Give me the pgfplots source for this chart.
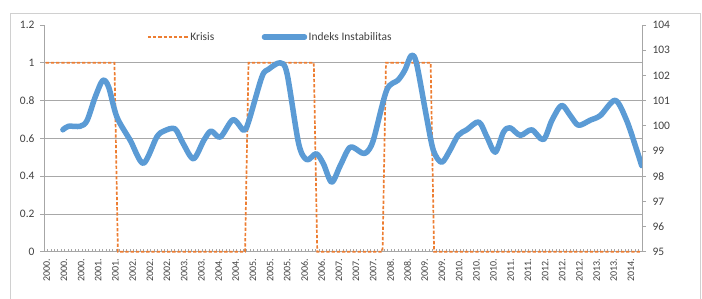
\documentclass[border=0pt]{standalone}
\usepackage{fontspec}
\setmainfont{Carlito}
\usepackage{pgfplots}
\pgfplotsset{compat=1.18}
\definecolor{exblue}{HTML}{5B9BD5}
\definecolor{exorange}{HTML}{ED7D31}
\definecolor{gridgray}{HTML}{A8A8A8}
\definecolor{axgray}{HTML}{A6A6A6}
\definecolor{txt}{HTML}{404040}
\definecolor{framegray}{HTML}{D0D0D0}
\begin{document}
\begin{tikzpicture}[x=1bp,y=1bp]
\useasboundingbox (0,0) rectangle (702,298);
\draw[framegray, line width=1bp] (10,-5) rectangle (700,284);
\begin{axis}[
  at={(44bp,46.3bp)}, anchor=south west,
  scale only axis, width=598bp, height=226.7bp,
  xmin=-0.5, xmax=173.5, ymin=0, ymax=1.2,
  axis y line*=left, axis x line*=bottom,
  axis line style={axgray, line width=0.8bp},
  tick align=outside,
  major tick length=4bp, minor tick length=3bp,
  xtick={0,5,...,170},
  xticklabels={2000.,2000.,2000.,2001.,2001.,2002.,2002.,2002.,2003.,2003.,2004.,2004.,2005.,2005.,2005.,2006.,2006.,2007.,2007.,2007.,2008.,2008.,2009.,2009.,2010.,2010.,2010.,2011.,2011.,2012.,2012.,2012.,2013.,2013.,2014.},
  minor xtick={-0.5,0.5,...,173.5},
  xtick style={draw=none},
  minor x tick style={draw=axgray, line width=0.6bp, yshift=3bp},
  x tick label style={rotate=90, anchor=east, font=\fontsize{10}{12}\selectfont, text=txt, yshift=-1bp},
  ytick={0,0.2,0.4,0.6,0.8,1},
  yticklabels={0,0.2,0.4,0.6,0.8,1},
  extra y ticks={1.2}, extra y tick labels={1.2},
  extra y tick style={grid=none},
  ymajorgrids, grid style={gridgray, line width=0.8bp},
  ytick style={draw=axgray, line width=0.8bp},
  y tick label style={font=\fontsize{11.5}{13}\selectfont, text=txt, xshift=-2bp},
  clip=false,
]
\addplot[exorange, line width=1.7bp, dash pattern=on 3.3bp off 1.9bp] coordinates {
(0,1)(20,1)(21,0)(58,0)(59,1)(78,1)(79,0)(98,0)(99,1)(112,1)(113,0)(173,0)};
\end{axis}
\begin{axis}[
  at={(44bp,46.3bp)}, anchor=south west,
  scale only axis, width=598bp, height=226.7bp,
  xmin=-0.5, xmax=173.5, ymin=95, ymax=104,
  axis y line*=right, axis x line=none,
  axis line style={axgray, line width=0.8bp},
  tick align=outside, major tick length=4bp,
  ytick={95,96,...,104},
  ytick style={draw=axgray, line width=0.8bp},
  /pgf/number format/assume math mode=true,
  y tick label style={font=\fontsize{11.5}{13}\selectfont, text=txt, xshift=3bp},
  legend style={at={(0.172,0.947)}, anchor=west, draw=none, fill=none,
    inner sep=0pt, font=\fontsize{11.5}{13}\selectfont, text=txt,
    nodes={inner sep=1.5bp},
    /tikz/every even column/.append style={column sep=46bp}},
  legend columns=2,
  legend image code/.code={\draw[#1] (0bp,0bp) -- (40bp,0bp);},
]
\addlegendimage{exorange, line width=1.7bp, dash pattern=on 3.3bp off 1.9bp}
\addlegendentry{Krisis}
\addplot[exblue, line width=5.5bp, smooth, tension=0.5, line cap=round, line join=round] coordinates {
(5.0,99.84)(6.6,99.98)(10.0,99.98)(12.0,100.2)(14.4,101.14)(16.6,101.8)(18.3,101.54)
(20.7,100.35)(24.6,99.42)(28.4,98.51)(32.3,99.55)(34.4,99.79)(37.6,99.88)(40.0,99.29)
(43.0,98.69)(46.0,99.42)(48.1,99.79)(50.8,99.55)(54.5,100.24)(57.6,99.82)(59.0,100.15)
(62.9,101.94)(64.8,102.24)(68.2,102.5)(70.2,102.08)(73.6,99.29)(76.0,98.65)(78.7,98.89)
(80.8,98.49)(83.2,97.76)(85.7,98.42)(88.6,99.15)(92.0,98.92)(93.4,98.95)(95.3,99.42)
(99.2,101.41)(102.5,101.81)(104.5,102.21)(106.4,102.80)(107.9,102.47)(110.8,100.35)
(112.8,99.02)(115.2,98.55)(117.6,99.02)(120.0,99.62)(122.5,99.84)(126.0,100.15)
(128.4,99.55)(130.8,98.95)(133.2,99.75)(135.1,99.92)(138.1,99.62)(141.4,99.84)
(144.8,99.45)(147.3,100.22)(150.1,100.81)(152.6,100.41)(155.0,100.02)(158.4,100.22)
(161.4,100.41)(165.7,101.01)(169.0,100.22)(172.0,99.02)(173.4,98.42)};
\addlegendentry{Indeks Instabilitas}
\end{axis}
\end{tikzpicture}
\end{document}
